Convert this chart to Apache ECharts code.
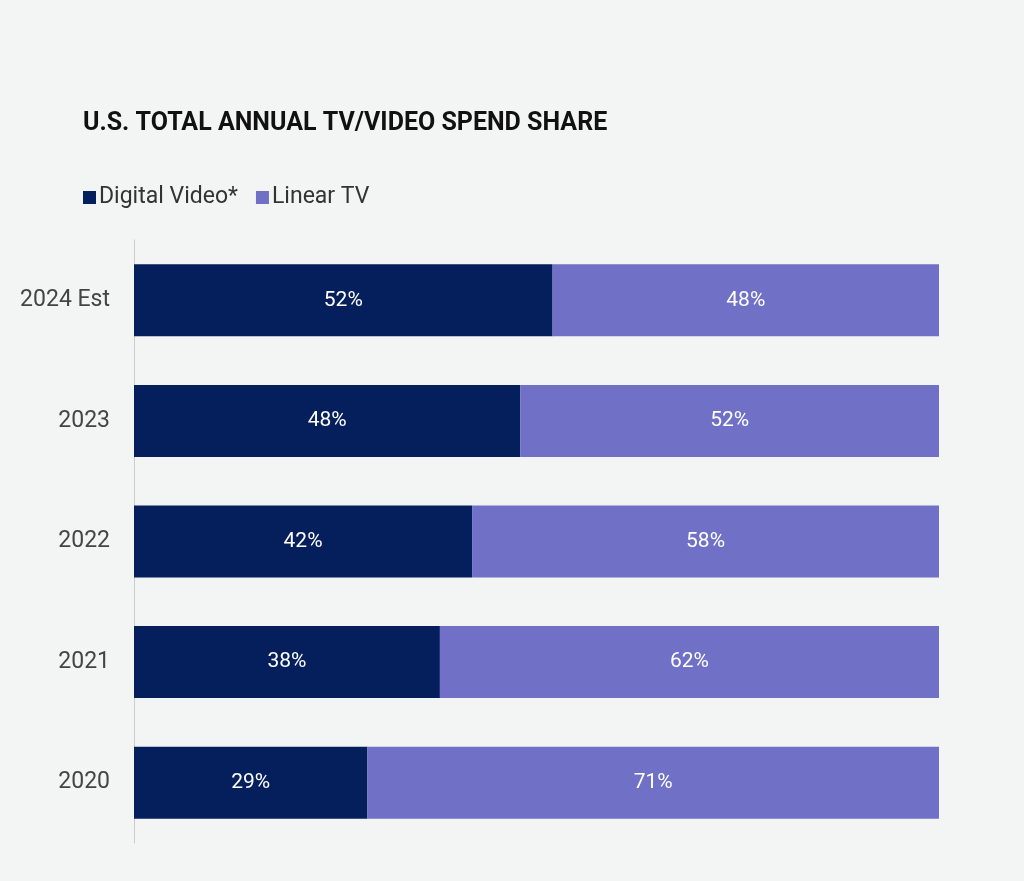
<!DOCTYPE html>
<html><head><meta charset="utf-8">
<script src="https://cdn.jsdelivr.net/npm/echarts@6/dist/echarts.min.js"></script>
<style>html,body{margin:0;background:#f3f4f4}#c{width:1024px;height:881px}</style>
</head><body><div id="c"></div>
<script>
const categories = ["2024 Est","2023","2022","2021","2020"];
const digitalVideo = [52,48,42,38,29];
const linearTV = [48,52,58,62,71];
const chart = echarts.init(document.getElementById('c'));
const lbl = {show:true,position:'inside',color:'#fff',fontSize:21,fontFamily:'Roboto',formatter:p=>p.value+'%'};
chart.setOption({
  backgroundColor:'#f3f4f4',
  title:{text:'U.S. TOTAL ANNUAL TV/VIDEO SPEND SHARE',left:78,top:106,
    textStyle:{fontFamily:'Roboto',fontWeight:'bold',fontSize:25,color:'#111'}},
  legend:{left:78,top:181,itemWidth:13,itemHeight:13,itemGap:18,icon:'rect',
    textStyle:{fontFamily:'Roboto',fontSize:23,color:'#333',padding:[0,0,0,-2]}},
  grid:{left:134,right:85,top:240,bottom:38},
  xAxis:{type:'value',min:0,max:100,show:false},
  yAxis:{type:'category',data:categories,inverse:true,
    axisLine:{lineStyle:{color:'#ccc'}},axisTick:{show:false},
    axisLabel:{fontFamily:'Roboto',fontSize:23,color:'#444',margin:24}},
  series:[
    {name:'Digital Video*',type:'bar',stack:'a',data:digitalVideo,barWidth:72,itemStyle:{color:'#051e5c'},label:lbl},
    {name:'Linear TV',type:'bar',stack:'a',data:linearTV,barWidth:72,itemStyle:{color:'#6f70c6'},label:lbl}
  ]
});
</script></body></html>
